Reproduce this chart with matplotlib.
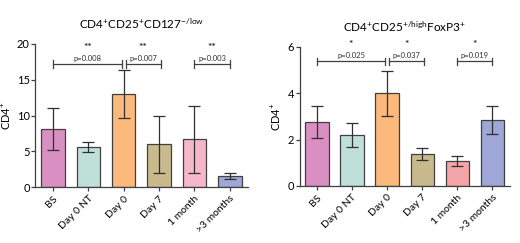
import numpy as np
import matplotlib
matplotlib.use("Agg")
import matplotlib.pyplot as plt

plt.rcParams['font.family'] = ['Lato', 'DejaVu Sans']
plt.rcParams['mathtext.default'] = 'regular'

categorias = ["BS", "Day 0 NT", "Day 0", "Day 7", "1 month", ">3 months"]

# painel esquerdo: CD4+CD25+CD127-/low
media_127 = [8.1, 5.6, 13.0, 6.0, 6.7, 1.6]
dp_127 = [2.9, 0.65, 3.3, 4.0, 4.7, 0.4]
cores_127 = ["#d98fc2", "#bfe0d8", "#fbb97c", "#c9ba8d", "#f5b7c9", "#9ea7d5"]
comparacoes_127 = [(0, 2, "p=0.008", "**"), (2, 3, "p=0.007", "**"), (4, 5, "p=0.003", "**")]

# painel direito: CD4+CD25+/high FoxP3+
media_fox = [2.75, 2.2, 4.0, 1.37, 1.07, 2.85]
dp_fox = [0.68, 0.5, 0.97, 0.27, 0.22, 0.6]
cores_fox = ["#d98fc2", "#bfe0d8", "#fbb97c", "#c9ba8d", "#f4a5a8", "#9ea7d5"]
comparacoes_fox = [(0, 2, "p=0.025", "*"), (2, 3, "p=0.037", "*"), (4, 5, "p=0.019", "*")]

cor_linha = "#404040"


def painel(ax, media, dp, cores, comparacoes, ymax, passo, titulo, y_colchete, y_estrela):
    x = np.arange(len(categorias))
    ax.bar(x, media, width=0.66, color=cores, edgecolor=cor_linha, linewidth=0.9, zorder=2)
    ax.errorbar(x, media, yerr=dp, fmt='none', ecolor="#303030", elinewidth=0.9,
                capsize=4.5, capthick=0.9, zorder=3)
    ax.set_xlim(-0.5, 5.5)
    ax.set_ylim(0, ymax)
    ax.set_yticks(np.arange(0, ymax + passo / 2, passo))
    ax.set_xticks(x)
    ax.set_xticklabels(categorias, rotation=45, ha='right', rotation_mode='anchor', fontsize=7.5)
    ax.tick_params(axis='y', labelsize=8, length=3, width=0.9, color=cor_linha, pad=1)
    ax.tick_params(axis='x', length=3, width=0.9, color=cor_linha, pad=2)
    for lado in ['top', 'right']:
        ax.spines[lado].set_visible(False)
    for lado in ['left', 'bottom']:
        ax.spines[lado].set_color(cor_linha)
        ax.spines[lado].set_linewidth(0.9)
    ax.set_ylabel("CD4$^{+}$", fontsize=8, labelpad=3)
    ax.set_title(titulo, fontsize=8.5, pad=11)

    h = ymax * 0.025
    for i, j, p, est in comparacoes:
        x0 = i if i == 0 or i == 4 else i + 0.05
        x1 = j - 0.05 if j == 2 else j + (0.05 if j == 3 else 0)
        ax.plot([x0, x1], [y_colchete, y_colchete], color=cor_linha, lw=0.9, clip_on=False)
        ax.plot([x0, x0], [y_colchete - h, y_colchete + h], color=cor_linha, lw=0.9, clip_on=False)
        ax.plot([x1, x1], [y_colchete - h, y_colchete + h], color=cor_linha, lw=0.9, clip_on=False)
        ax.text((x0 + x1) / 2, y_colchete + h * 0.6, p, ha='center', va='bottom', fontsize=5.5,
                color="#303030")
        ax.text((x0 + x1) / 2, y_estrela, est, ha='center', va='center', fontsize=7.5,
                color="#303030", fontweight='bold')


fig = plt.figure(figsize=(5.2, 2.43), dpi=100)
ax1 = fig.add_axes([0.068, 0.230, 0.408, 0.589])
ax2 = fig.add_axes([0.576, 0.235, 0.404, 0.572])

painel(ax1, media_127, dp_127, cores_127, comparacoes_127, 20, 5,
       "CD4$^{+}$CD25$^{+}$CD127$^{-/low}$", 17.2, 19.5)
painel(ax2, media_fox, dp_fox, cores_fox, comparacoes_fox, 6, 2,
       "CD4$^{+}$CD25$^{+/high}$FoxP3$^{+}$", 5.38, 6.1)

fig.savefig("out.png", dpi=100)
